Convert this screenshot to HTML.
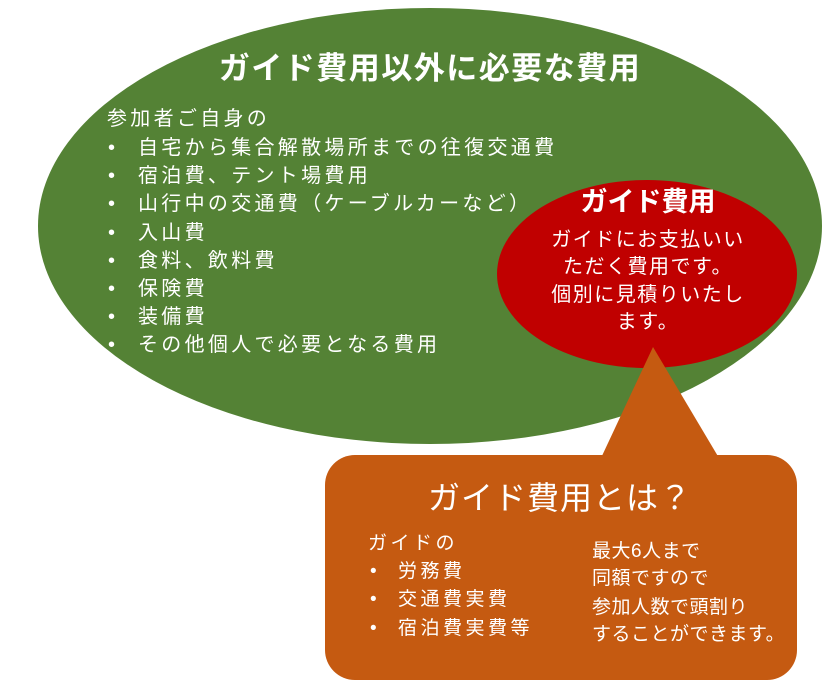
<!DOCTYPE html>
<html><head><meta charset="utf-8"><style>
html,body{margin:0;padding:0;background:#fff;}
svg{display:block;}
text{font-family:"Liberation Sans","Noto Sans CJK JP",sans-serif;fill:#fff;}
</style></head><body>
<svg width="825" height="685" viewBox="0 0 825 685" xmlns="http://www.w3.org/2000/svg">
<ellipse cx="430" cy="226" rx="392" ry="218" fill="#548235"/>
<ellipse cx="647" cy="274" rx="150" ry="94" fill="#C00000"/>
<polygon points="653,347 601,458 719,458" fill="#C55A11"/>
<rect x="325" y="455" width="472" height="225" rx="30" ry="30" fill="#C55A11"/>

<text x="430" y="79" font-size="31" font-weight="bold" text-anchor="middle" letter-spacing="1.5">ガイド費用以外に必要な費用</text>
<g font-size="20" letter-spacing="3.3">
<text x="107" y="125">参加者ご自身の</text>
<text x="108" y="154">•</text><text x="138" y="154">自宅から集合解散場所までの往復交通費</text>
<text x="108" y="182">•</text><text x="138" y="182">宿泊費、テント場費用</text>
<text x="108" y="210">•</text><text x="138" y="210">山行中の交通費（ケーブルカーなど）</text>
<text x="108" y="239">•</text><text x="138" y="239">入山費</text>
<text x="108" y="267">•</text><text x="138" y="267">食料、飲料費</text>
<text x="108" y="295">•</text><text x="138" y="295">保険費</text>
<text x="108" y="323">•</text><text x="138" y="323">装備費</text>
<text x="108" y="351">•</text><text x="138" y="351">その他個人で必要となる費用</text>
</g>

<text x="648" y="211" font-size="27" font-weight="bold" text-anchor="middle">ガイド費用</text>
<g font-size="20" text-anchor="middle" letter-spacing="1.5">
<text x="648" y="246">ガイドにお支払いい</text>
<text x="648" y="273">ただく費用です。</text>
<text x="648" y="301">個別に見積りいたし</text>
<text x="648" y="328">ます。</text>
</g>

<text x="560" y="509" font-size="32" text-anchor="middle" letter-spacing="1">ガイド費用とは？</text>
<g font-size="19" letter-spacing="3.5">
<text x="368" y="549">ガイドの</text>
<text x="370" y="577">•</text><text x="398" y="577">労務費</text>
<text x="370" y="605">•</text><text x="398" y="605">交通費実費</text>
<text x="370" y="634">•</text><text x="398" y="634">宿泊費実費等</text>
</g>
<g font-size="19" letter-spacing="0.5">
<text x="592" y="557">最大6人まで</text>
<text x="592" y="584">同額ですので</text>
<text x="592" y="613">参加人数で頭割り</text>
<text x="592" y="640">することができます。</text>
</g>
</svg>
</body></html>
